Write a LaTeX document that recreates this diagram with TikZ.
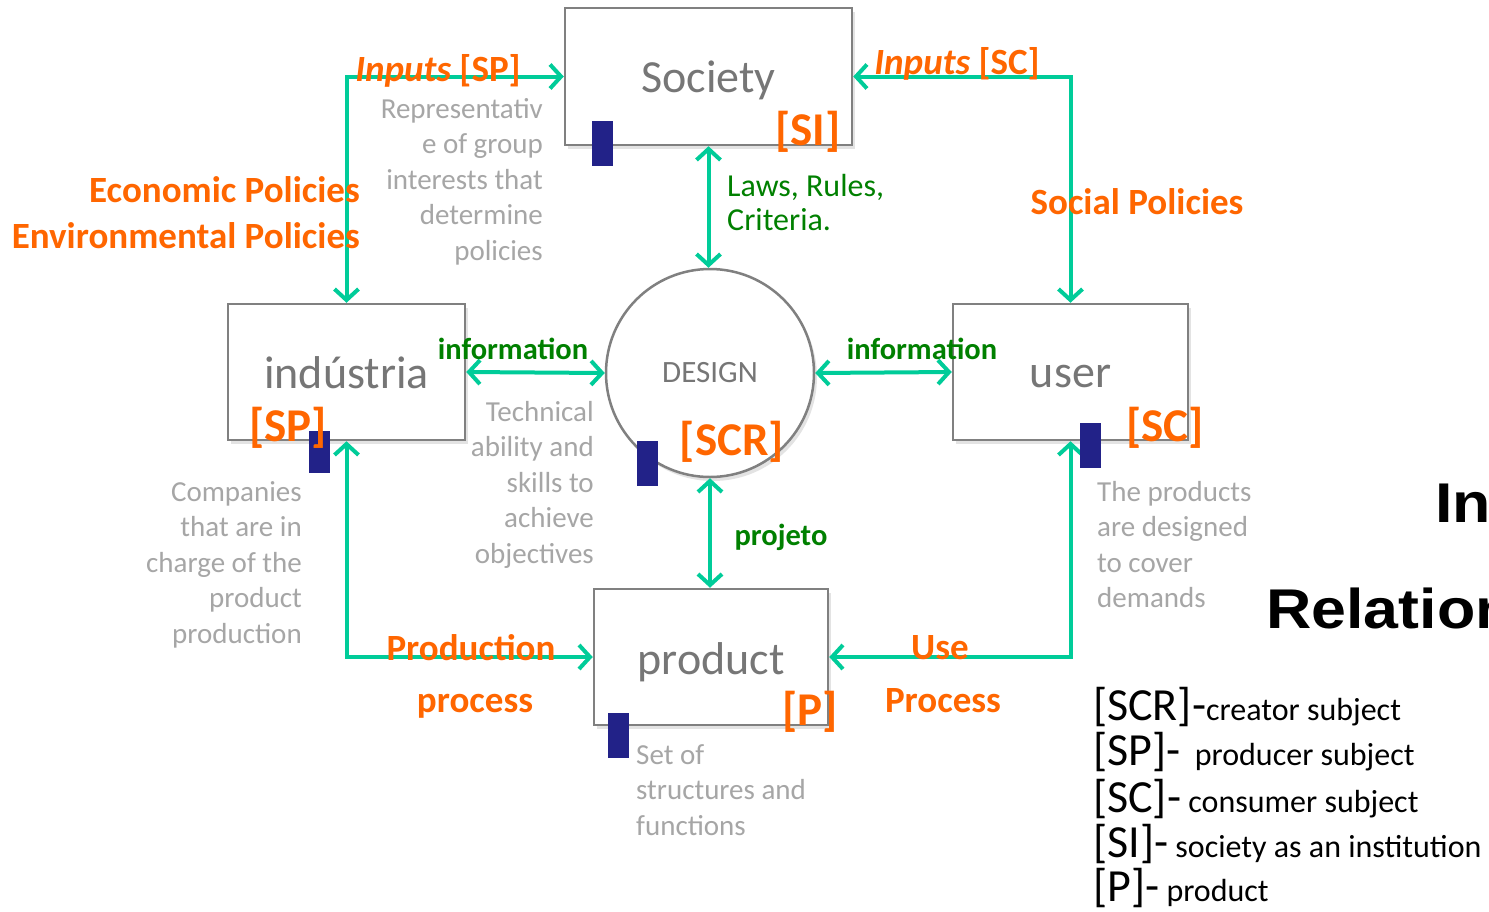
\documentclass[tikz,border=0pt]{standalone}
\usepackage{fontspec}
\setmainfont{Carlito}
\newfontfamily\headfont{Liberation Sans}
\usetikzlibrary{arrows.meta,shadows}
\definecolor{arrowc}{RGB}{0,204,153}
\definecolor{orangec}{RGB}{255,102,0}
\definecolor{greenc}{RGB}{0,128,0}
\definecolor{boxgray}{RGB}{128,128,128}
\definecolor{txtgray}{RGB}{118,118,118}
\definecolor{descgray}{RGB}{166,166,166}
\definecolor{navyc}{RGB}{34,34,136}
\newcommand\fsz[2]{\fontsize{#1}{#2}\selectfont}
\newcommand\lowerby[2]{\raisebox{-#1}[\height][\depth]{#2}}
\tikzset{
  box/.style={draw=boxgray, line width=2.5pt, fill=white, inner sep=0pt, text=txtgray,
    font=\fsz{46}{50}, drop shadow={opacity=0.22, shadow xshift=3pt, shadow yshift=-4pt}},
  conn/.style={draw=arrowc, line width=4pt,
    {Straight Barb[length=11pt,width=24pt]}-{Straight Barb[length=11pt,width=24pt]}},
  tag/.style={text=orangec, font=\fsz{47}{50}\bfseries, inner sep=0pt, anchor=base},
  olab/.style={text=orangec, font=\fsz{37}{40}\bfseries, inner sep=0pt, anchor=base},
  glab/.style={text=greenc, font=\fsz{30.5}{34}\bfseries, inner sep=0pt, anchor=base},
  desc/.style={text=descgray, font=\fsz{29}{35.5}, inner sep=0pt},
  legend/.style={text=black, inner sep=0pt, anchor=base west},
  navybar/.style={fill=navyc},
}
\begin{document}
\begin{tikzpicture}[x=1pt,y=-1pt]
\clip (0,0) rectangle (1489,911);
\fill[white] (0,0) rectangle (1489,911);

% main nodes
\node[box, minimum width=287, minimum height=137] (soc) at (708.5,76.5) {\lowerby{4pt}{Society}};
\node[box, minimum width=237, minimum height=136] (ind) at (346.5,372) {\lowerby{1pt}{indústria}};
\node[box, minimum width=235, minimum height=136] (user) at (1070.5,372) {\lowerby{4pt}{user}};
\node[box, minimum width=234, minimum height=136] (prod) at (711,657) {\lowerby{5pt}{product}};
\node[box, circle, minimum size=208, font=\fsz{31}{34}] (des) at (710,373) {DESIGN};

% connectors
\draw[conn] (ind.north) -- (ind.north |- soc.west) -- (soc.west);
\draw[conn] (soc.east) -- (user.north |- soc.east) -- (user.north);
\draw[conn] (soc.south) -- (soc.south |- des.north);
\draw[conn] (ind.east) -- (des.west);
\draw[conn] (des.east) -- (user.west);
\draw[conn] (des.south) -- (des.south |- prod.north);
\draw[conn] (ind.south) -- (ind.south |- prod.west) -- (prod.west);
\draw[conn] (user.south) -- (user.south |- prod.east) -- (prod.east);

% navy markers
\fill[navybar] (592,121) rectangle (613,166);
\fill[navybar] (309,431) rectangle (330,473);
\fill[navybar] (637,441) rectangle (658,486);
\fill[navybar] (1080,423) rectangle (1101,468);
\fill[navybar] (608,713) rectangle (629,758);

% subject tags
\node[tag] (tSI) at (808,145) {[SI]};
\node[tag] (tSP) at (288,441) {[SP]};
\node[tag] (tSCR) at (732,455) {[SCR]};
\node[tag] (tSC) at (1165,441) {[SC]};
\node[tag] (tP) at (810,725) {[P]};

% orange labels
\node[olab] (inSP) at (438,81) {\itshape Inputs \upshape[SP]};
\node[olab] (inSC) at (957,74) {\itshape Inputs \upshape[SC]};
\node[olab, anchor=base east] (eco) at (360,202) {Economic Policies};
\node[olab, anchor=base east] (env) at (360,248) {Environmental Policies};
\node[olab] (soc2) at (1137,214) {Social Policies};
\node[olab] (prod1) at (471,660) {Production};
\node[olab] (prod2) at (475,712) {process};
\node[olab] (use1) at (940,659) {Use};
\node[olab] (use2) at (943,712) {Process};

% green labels
\node[glab] (inf1) at (513,359) {information};
\node[glab] (inf2) at (922,359) {information};
\node[glab] (proj) at (781,545) {projeto};
\node[text=greenc, font=\fsz{32}{34.5}, inner sep=0pt, align=left, anchor=north west] (laws)
  at (727,174) {Laws, Rules,\\Criteria.};

% grey descriptions
\node[desc, align=right, anchor=north east] (d1) at (543,98)
  {Representativ\\e of group\\interests that\\determine\\policies};
\node[desc, align=right, anchor=north east] (d2) at (594,401)
  {Technical\\ability and\\skills to\\achieve\\objectives};
\node[desc, align=right, anchor=north east] (d3) at (302,481)
  {Companies\\that are in\\charge of the\\product\\production};
\node[desc, align=left, anchor=north west] (d4) at (636,744)
  {Set of\\structures and\\functions};
\node[desc, align=left, anchor=north west] (d5) at (1097,481)
  {The products\\are designed\\to cover\\demands};

% headings (cut by the right edge, as in the reference)
\node[anchor=base west, inner sep=0pt] (h1) at (1435,522)
  {\headfont\bfseries\fsz{56}{60}\scalebox{1.12}[1]{In}};
\node[anchor=base west, inner sep=0pt] (h2) at (1266,628)
  {\headfont\bfseries\fsz{56}{60}\scalebox{1.12}[1]{Relation}};

% legend
\node[legend] (l1) at (1093,720) {\fsz{46}{50}[SCR]-\fsz{32}{34}creator subject};
\node[legend] (l2) at (1093,765) {\fsz{46}{50}[SP]-\fsz{32}{34}\ \ producer subject};
\node[legend] (l3) at (1093,812) {\fsz{46}{50}[SC]-\fsz{32}{34} consumer subject};
\node[legend] (l4) at (1093,857) {\fsz{46}{50}[SI]-\fsz{32}{34} society as an institution};
\node[legend] (l5) at (1093,901) {\fsz{46}{50}[P]-\fsz{32}{34} product};
\end{tikzpicture}
\end{document}
